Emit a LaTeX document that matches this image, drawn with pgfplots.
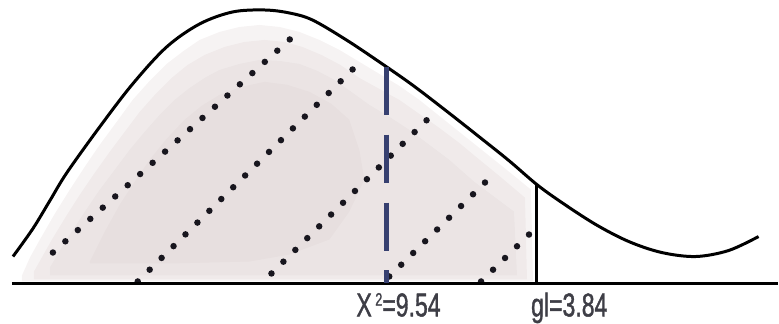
\documentclass[border=0pt]{standalone}
\usepackage{pgfplots}
\pgfplotsset{compat=1.18}
\usepackage{fontspec}
\setmainfont{Liberation Sans}
\newfontfamily\lblfont[FakeBold=1.5]{Liberation Sans}
\definecolor{shade}{RGB}{220,208,208}
\definecolor{dotcol}{RGB}{24,22,30}
\definecolor{dashcol}{RGB}{55,64,112}
\definecolor{lbl}{RGB}{62,62,70}
\begin{document}
\begin{tikzpicture}
\begin{axis}[
    width=779pt, height=322pt, scale only axis,
    xmin=0, xmax=779, ymin=0, ymax=322, y dir=reverse,
    hide axis, clip=false,
    dotline/.style={dotcol, line width=6.5pt, line cap=round,
        dash pattern=on 0pt off 16.8pt},
]
    % keep the page the size of the picture
    \path (axis cs:0,0) rectangle (axis cs:779,322);
    % blurry grey shade under the curve, built up in soft layers
    \addplot[fill=shade, draw=none, opacity=.25] coordinates {
        (22,276) (30,258) (40,240) (55,214) (70,190) (85,167) (100,145)
        (117,122) (133,100) (150,81) (167,64) (184,51) (200,40)
        (220,32) (240,27) (260,25) (280,27) (300,32) (320,40) (340,50)
        (360,62) (380,74) (400,86) (420,100) (440,116) (460,132)
        (480,148) (505,168) (532,190) (534,282) (22,282)};
    \addplot[fill=shade, draw=none, opacity=.25] coordinates {
        (34,272) (43,256) (52,240) (66,217) (80,195) (95,173) (110,152)
        (125,132) (140,112) (156,94) (172,78) (188,65) (205,55)
        (225,47) (245,42) (265,40) (285,42) (303,47) (322,55)
        (341,65) (360,78) (380,89) (400,100) (420,114) (440,128)
        (460,143) (478,158) (500,176) (526,198) (528,280) (34,280)};
    \addplot[fill=shade, draw=none, opacity=.25] coordinates {
        (50,268) (60,251) (70,235) (85,212) (100,190) (115,170)
        (130,150) (145,132) (160,115) (175,100) (190,88) (205,78)
        (220,70) (240,64) (260,60) (280,61) (300,64) (318,71)
        (335,80) (352,92) (370,105) (390,117) (410,130) (430,145)
        (450,160) (475,182) (515,212) (518,276) (50,276)};
    \addplot[fill=shade, draw=none, opacity=.25] coordinates {
        (90,262) (105,232) (120,205) (135,182) (150,160) (167,139)
        (185,120) (202,106) (220,95) (242,87) (265,82) (288,85)
        (310,92) (332,104) (350,120) (360,150) (365,180) (350,212)
        (330,240) (290,255) (250,262) (170,264) (90,264)};
    % dotted diagonals
    \addplot[dotline] coordinates {(53,253) (302,29)};
    \addplot[dotline] coordinates {(138,282) (363,60)};
    \addplot[dotline] coordinates {(272,274) (438,110)};
    \addplot[dotline] coordinates {(390,277) (497,172)};
    \addplot[dotline] coordinates {(482,282) (531,234)};
    % the density curve
    \addplot[black, line width=3pt, smooth, tension=.55] coordinates {
        (13,257) (33,229) (50,201) (67,173) (100,127) (133,84)
        (167,47) (200,24) (233,12) (265,10) (290,13) (313,20)
        (347,40) (380,62) (413,85) (447,111) (480,137) (510,161)
        (538,185) (563,203) (597,225) (630,242) (663,253) (697,257)
        (730,251) (760,237)};
    % baseline
    \addplot[black, line width=3pt] coordinates {(12,284.5) (779,284.5)};
    % critical value line
    \addplot[black, line width=3pt] coordinates {(538,185) (538,284)};
    % observed statistic, dashed
    \addplot[dashcol, line width=5pt, dash pattern=on 48pt off 20pt]
        coordinates {(387,67) (387,284)};
    \node[lbl, anchor=base west, inner sep=0pt,
        font=\lblfont\fontsize{33}{33}\selectfont, xscale=.7]
        at (axis cs:357,317)
        {X\hspace{5pt}\raisebox{.62ex}{\fontsize{18}{18}\selectfont 2}=9.54};
    \node[lbl, anchor=base west, inner sep=0pt,
        font=\lblfont\fontsize{33}{33}\selectfont, xscale=.7]
        at (axis cs:532,317) {gl=3.84};
\end{axis}
\end{tikzpicture}
\end{document}
